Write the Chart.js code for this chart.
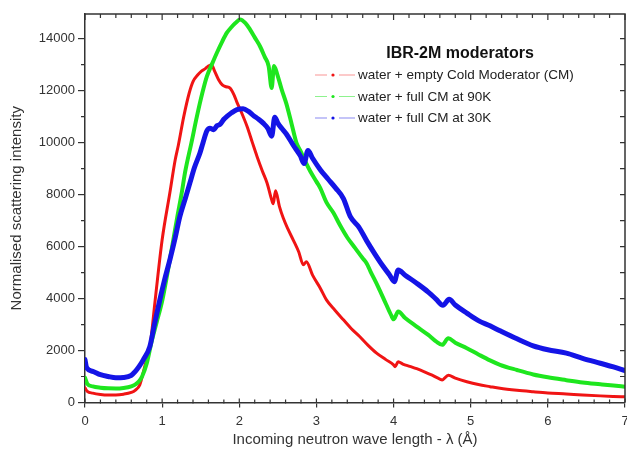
<!DOCTYPE html>
<html>
<head>
<meta charset="utf-8">
<title>IBR-2M moderators</title>
<script src="https://cdn.jsdelivr.net/npm/chart.js@4.4.1/dist/chart.umd.min.js"></script>
<style>
  html, body { margin: 0; padding: 0; background: #fff; }
  #wrap { width: 627px; height: 458px; }
</style>
</head>
<body>
<div id="wrap"><canvas id="chart" width="627" height="458"></canvas></div>
<script>
// values
const xTicks = [0, 1, 2, 3, 4, 5, 6, 7];
const yTicks = [0, 2000, 4000, 6000, 8000, 10000, 12000, 14000];

const seriesNames = [
  'water + empty Cold Moderator (CM)',
  'water + full CM at 90K',
  'water + full CM at 30K'
];

const redLambda = [0, 0.03, 0.1, 0.2, 0.3, 0.4, 0.5, 0.6, 0.65, 0.71, 0.78, 0.84, 0.91, 1.0, 1.1, 1.17, 1.21, 1.28, 1.35, 1.4, 1.46, 1.51, 1.56, 1.6, 1.64, 1.68, 1.73, 1.78, 1.83, 1.88, 1.93, 1.97, 2.03, 2.1, 2.17, 2.23, 2.3, 2.36, 2.42, 2.44, 2.47, 2.52, 2.57, 2.63, 2.7, 2.77, 2.83, 2.87, 2.95, 3.05, 3.13, 3.24, 3.35, 3.45, 3.56, 3.67, 3.78, 3.9, 4.0, 4.02, 4.06, 4.12, 4.21, 4.3, 4.4, 4.5, 4.6, 4.63, 4.71, 4.8, 4.95, 5.1, 5.25, 5.38, 5.6, 5.81, 6.0, 6.24, 6.45, 6.68, 6.85, 7.0];
const redValues = [560, 430, 360, 310, 290, 290, 320, 390, 470, 680, 1450, 2100, 3950, 6260, 8070, 9350, 9900, 11000, 11900, 12350, 12600, 12750, 12850, 12950, 13000, 12750, 12430, 12220, 12150, 12100, 11850, 11550, 11150, 10630, 10000, 9470, 8900, 8450, 7800, 7650, 8150, 7550, 7100, 6680, 6250, 5800, 5300, 5420, 4900, 4400, 3950, 3550, 3180, 2850, 2540, 2200, 1900, 1650, 1450, 1380, 1570, 1480, 1390, 1300, 1180, 1050, 900, 870, 1050, 940, 800, 690, 610, 545, 470, 415, 370, 330, 290, 255, 235, 220];

const greenLambda = [0, 0.03, 0.1, 0.2, 0.3, 0.4, 0.5, 0.6, 0.65, 0.7, 0.74, 0.8, 0.86, 0.93, 1.0, 1.07, 1.145, 1.2, 1.25, 1.3, 1.38, 1.45, 1.52, 1.58, 1.65, 1.71, 1.78, 1.84, 1.9, 1.95, 2.01, 2.08, 2.14, 2.2, 2.27, 2.33, 2.38, 2.42, 2.45, 2.49, 2.55, 2.61, 2.68, 2.74, 2.79, 2.86, 2.92, 3.0, 3.05, 3.13, 3.22, 3.31, 3.4, 3.5, 3.6, 3.65, 3.7, 3.8, 3.9, 3.97, 4.0, 4.06, 4.15, 4.3, 4.45, 4.55, 4.63, 4.71, 4.8, 4.95, 5.1, 5.25, 5.38, 5.6, 5.81, 6.0, 6.24, 6.45, 6.68, 6.85, 7.0];
const greenValues = [950, 720, 620, 570, 545, 540, 560, 620, 690, 820, 1000, 1500, 2300, 3100, 3900, 5000, 6260, 7200, 8000, 8900, 10000, 11000, 11900, 12550, 13050, 13460, 13900, 14230, 14450, 14600, 14740, 14600, 14350, 14050, 13700, 13300, 12950, 12100, 12950, 12650, 12040, 11500, 10700, 10000, 9700, 9250, 8900, 8500, 8250, 7700, 7300, 6800, 6350, 5950, 5550, 5360, 5050, 4450, 3800, 3350, 3200, 3500, 3250, 2920, 2600, 2350, 2220, 2470, 2300, 2090, 1850, 1620, 1450, 1250, 1080, 970, 860, 770, 700, 650, 610];

const blueLambda = [0, 0.02, 0.1, 0.2, 0.3, 0.4, 0.5, 0.6, 0.65, 0.7, 0.755, 0.84, 0.9, 0.97, 1.03, 1.1, 1.17, 1.23, 1.3, 1.36, 1.42, 1.49, 1.53, 1.58, 1.62, 1.67, 1.71, 1.75, 1.8, 1.84, 1.9, 1.97, 2.05, 2.12, 2.18, 2.25, 2.31, 2.37, 2.42, 2.46, 2.5, 2.55, 2.61, 2.7, 2.79, 2.84, 2.89, 2.95, 3.05, 3.15, 3.25, 3.35, 3.44, 3.55, 3.65, 3.75, 3.85, 3.95, 4.01, 4.06, 4.15, 4.3, 4.45, 4.55, 4.64, 4.72, 4.8, 4.95, 5.1, 5.25, 5.38, 5.6, 5.81, 6.0, 6.24, 6.45, 6.68, 6.85, 7.0];
const blueValues = [1650, 1350, 1200, 1070, 1000, 950, 960, 1040, 1190, 1380, 1640, 2150, 3000, 3950, 4700, 5490, 6350, 7160, 7850, 8450, 9050, 9600, 10000, 10450, 10550, 10500, 10650, 10700, 10900, 11010, 11150, 11270, 11300, 11200, 11050, 10900, 10750, 10550, 10250, 10980, 10750, 10550, 10330, 9900, 9500, 9200, 9700, 9400, 8960, 8600, 8250, 7850, 7150, 6750, 6230, 5750, 5300, 4900, 4650, 5100, 4900, 4590, 4250, 3980, 3740, 3970, 3750, 3440, 3150, 2950, 2760, 2450, 2180, 2030, 1900, 1700, 1510, 1370, 1225];

const FONT = '"Liberation Sans", Arial, sans-serif';
const AXIS = '#333';

function toPoints(xs, ys) {
  return xs.map((x, i) => ({ x: x, y: ys[i] }));
}

// frame on top/right, minor ticks and the inset legend
const framePlugin = {
  id: 'frame',
  afterDraw(chart) {
    const ctx = chart.ctx;
    const a = chart.chartArea;
    const xs = chart.scales.x;
    const ys = chart.scales.y;
    ctx.save();
    ctx.strokeStyle = AXIS;
    ctx.lineWidth = 1.5;
    ctx.beginPath();
    ctx.moveTo(a.left, a.top);
    ctx.lineTo(a.right, a.top);
    ctx.lineTo(a.right, a.bottom);
    ctx.stroke();

    ctx.lineWidth = 1.2;
    ctx.beginPath();
    for (let i = 0; i <= 35; i++) {
      const px = xs.getPixelForValue(i * 0.2);
      const major = i % 5 === 0;
      ctx.moveTo(px, a.bottom - (major ? 4 : 3));
      ctx.lineTo(px, a.bottom + (major ? 0 : 1));
      ctx.moveTo(px, a.top);
      ctx.lineTo(px, a.top + (major ? 6 : 4));
    }
    for (let v = 0; v <= 14000; v += 1000) {
      const py = ys.getPixelForValue(v);
      const major = v % 2000 === 0;
      if (!major) {
        ctx.moveTo(a.left - 4, py);
        ctx.lineTo(a.left, py);
      }
      ctx.moveTo(a.right - 5, py);
      ctx.lineTo(a.right, py);
    }
    ctx.stroke();

    // legend
    ctx.fillStyle = '#111';
    ctx.font = 'bold 16px ' + FONT;
    ctx.textAlign = 'center';
    ctx.textBaseline = 'alphabetic';
    ctx.fillText('IBR-2M moderators', 460, 58);

    ctx.font = '13.5px ' + FONT;
    ctx.textAlign = 'left';
    ctx.textBaseline = 'middle';
    chart.data.datasets.forEach((ds, i) => {
      const y = 75 + i * 21.5;
      ctx.strokeStyle = ds.legendLine;
      ctx.lineWidth = 1;
      ctx.beginPath();
      ctx.moveTo(315, y);
      ctx.lineTo(327, y);
      ctx.moveTo(339, y);
      ctx.lineTo(355, y);
      ctx.stroke();
      ctx.fillStyle = ds.borderColor;
      ctx.beginPath();
      ctx.arc(333, y, 1.6, 0, Math.PI * 2);
      ctx.fill();
      ctx.fillStyle = '#222';
      ctx.fillText(ds.label, 358, y + 0.5);
    });
    ctx.restore();
  }
};

const chart = new Chart(document.getElementById('chart'), {
  type: 'line',
  data: {
    datasets: [
      {
        label: seriesNames[0],
        data: toPoints(redLambda, redValues),
        borderColor: 'rgb(240,20,20)',
        legendLine: 'rgba(240,20,20,0.45)',
        borderWidth: 3,
        order: 3
      },
      {
        label: seriesNames[1],
        data: toPoints(greenLambda, greenValues),
        borderColor: 'rgb(30,230,30)',
        legendLine: 'rgba(30,230,30,0.5)',
        borderWidth: 4,
        order: 2
      },
      {
        label: seriesNames[2],
        data: toPoints(blueLambda, blueValues),
        borderColor: 'rgb(20,20,230)',
        legendLine: 'rgba(20,20,230,0.5)',
        borderWidth: 5,
        order: 1
      }
    ]
  },
  options: {
    responsive: false,
    animation: false,
    devicePixelRatio: 1,
    layout: { padding: { top: 14, right: 2, left: 0, bottom: 0 } },
    elements: {
      point: { radius: 0 },
      line: { cubicInterpolationMode: 'monotone', borderJoinStyle: 'round', borderCapStyle: 'round' }
    },
    plugins: {
      legend: { display: false },
      tooltip: { enabled: false }
    },
    scales: {
      x: {
        type: 'linear',
        min: 0,
        max: 7,
        afterBuildTicks: s => { s.ticks = xTicks.map(v => ({ value: v })); },
        afterFit: s => { s.height = 55.5; s.paddingLeft = 0; s.paddingRight = 0; },
        ticks: { color: AXIS, font: { family: FONT, size: 13 }, padding: 6, maxRotation: 0, callback: v => String(v) },
        grid: { display: true, drawOnChartArea: false, tickLength: 5, color: AXIS, lineWidth: 1.2 },
        border: { display: true, color: AXIS, width: 1.5 },
        title: {
          display: true,
          text: 'Incoming neutron wave length - λ (Å)',
          color: AXIS,
          font: { family: FONT, size: 15 },
          padding: { top: 0, bottom: 9 }
        }
      },
      y: {
        min: 0,
        max: 14950,
        afterBuildTicks: s => { s.ticks = yTicks.map(v => ({ value: v })); },
        afterFit: s => { s.width = 85; s.paddingTop = 0; s.paddingBottom = 0; },
        ticks: { color: AXIS, font: { family: FONT, size: 13 }, padding: 3, callback: v => String(v) },
        grid: { display: true, drawOnChartArea: false, tickLength: 7, color: AXIS, lineWidth: 1.2 },
        border: { display: true, color: AXIS, width: 1.5 },
        title: {
          display: true,
          text: 'Normalised scattering intensity',
          color: AXIS,
          font: { family: FONT, size: 15 },
          padding: { top: 8, bottom: 0 }
        }
      }
    }
  },
  plugins: [framePlugin]
});
</script>
</body>
</html>
